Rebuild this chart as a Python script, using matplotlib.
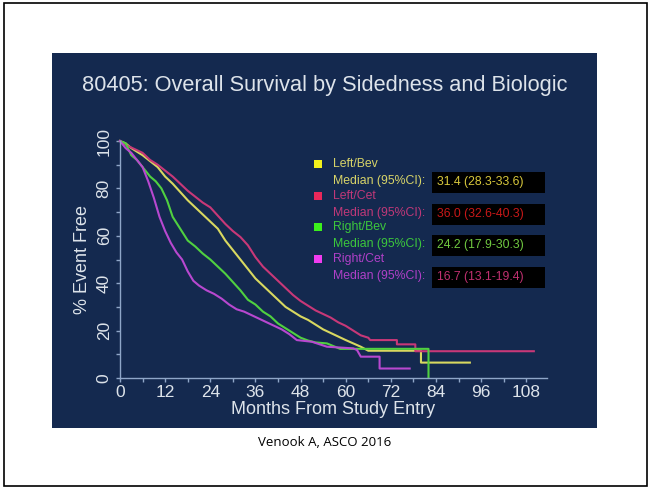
#!/usr/bin/env python3
"""Slide: 80405 overall survival by sidedness and biologic (KM curves)."""

import matplotlib
matplotlib.use('Agg')
import matplotlib.pyplot as plt
from matplotlib.patches import Rectangle

W, H = 652, 488

# Kaplan-Meier curves (months, % event free);
# the late flat parts keep their step corners as repeated months
left_bev_t = [0, 1.5, 3, 4.5, 6, 8, 10, 12, 14, 16, 18, 20, 22, 24, 26, 28, 30, 32, 34, 36,
              38, 40, 42, 44, 46, 48, 50, 52, 54, 56, 58, 60, 62, 64, 66, 80, 80, 93]
left_bev_s = [100, 99, 97, 95.5, 94, 91.5, 89, 85, 82, 78.5, 75, 72, 69, 66, 63, 58, 54, 50, 46, 42,
              39, 36, 33, 30, 28, 26, 24.5, 22.5, 20.5, 19, 17.5, 16, 14.6, 13.2, 11.5, 11.5, 6.5, 6.5]

left_cet_t = [0, 2, 4, 6, 8, 10, 12, 14, 16, 18, 20, 22, 24, 26, 28, 30, 32, 34, 36, 38,
              40, 42, 44, 46, 48, 50, 52, 54, 56, 58, 60, 62, 64, 66, 66.5, 73.6, 73.6, 78.5,
              78.5, 110]
left_cet_s = [100, 98, 96.5, 95, 92, 90, 87.5, 85, 82, 79, 76.5, 74, 72, 68.5, 65, 62, 59.5, 56, 51, 47,
              44, 41, 38, 35, 32.5, 30.5, 28.5, 27, 25.5, 23.5, 22, 20, 18, 17, 16, 16, 14.2, 14.2,
              11.3, 11.3]

right_bev_t = [0, 1.5, 3, 4.5, 6, 8, 9.5, 11, 12.5, 14, 16, 18, 20, 22, 24, 26, 28, 30, 32, 34,
               36, 38, 40, 42, 44, 46, 48, 50, 52, 55, 58.5, 82, 82]
right_bev_s = [100, 99, 94, 92, 89, 85, 83, 80, 75, 68, 63, 58, 55.5, 52.5, 50, 47, 44, 40.5, 37, 33,
               31, 28, 26, 23, 21, 19, 17, 15.8, 15, 14.6, 12.3, 12.3, 0]

right_cet_t = [0, 1.5, 3, 4.5, 6, 7.5, 9, 10.5, 12, 13.5, 15, 16.5, 18, 19.5, 21, 23, 25, 27, 29, 31,
               33, 35, 37, 39, 41, 43, 45, 47, 51, 55, 62, 63, 64, 69, 69, 77]
right_cet_s = [100, 97, 95, 92, 89, 83, 76, 68, 62, 57, 53, 50, 45, 41, 39, 37, 35.5, 33.5, 31, 29,
               28, 26.5, 25, 23.5, 22, 20.5, 18.5, 16, 15.3, 13.2, 12.5, 11.8, 9, 9, 4, 4]

groups = ['Left/Bev', 'Left/Cet', 'Right/Bev', 'Right/Cet']
medians = ['31.4 (28.3-33.6)', '36.0 (32.6-40.3)', '24.2 (17.9-30.3)', '16.7 (13.1-19.4)']
curve_colors = ['#d8d860', '#c83878', '#50d040', '#b848d0']
square_colors = ['#f2f01c', '#e8285a', '#3cf01c', '#f03cf0']
label_colors = ['#d8d468', '#c03878', '#3cc83c', '#b040c8']
value_colors = ['#d8c83c', '#c81818', '#70c840', '#c03070']

x_ticks = [0, 12, 24, 36, 48, 60, 72, 84, 96, 108]
y_ticks = [0, 20, 40, 60, 80, 100]

NAVY = '#14294f'
AXIS = '#8fa6c8'
TEXT = '#dde3ea'
FONT = ['Liberation Sans', 'DejaVu Sans']


def fx(x):
    return x / W


def fy(y):
    return 1 - y / H


fig = plt.figure(figsize=(W / 100, H / 100), dpi=100)
fig.patch.set_facecolor('white')

# slide frame and dark panel
fig.patches.append(Rectangle((fx(4), fy(486)), fx(643), 483 / H, transform=fig.transFigure,
                             fill=False, edgecolor='black', linewidth=1.2, zorder=-2))
fig.patches.append(Rectangle((fx(52), fy(428)), fx(545), 375 / H, transform=fig.transFigure,
                             facecolor=NAVY, edgecolor='none', zorder=-1))

fig.text(fx(325), fy(86), '80405: Overall Survival by Sidedness and Biologic',
         ha='center', va='center', color=TEXT, fontsize=15.7, family=FONT)
fig.text(fx(325), fy(442), 'Venook A, ASCO 2016', ha='center', va='center',
         color='black', fontsize=9.5, family=['Open Sans', 'DejaVu Sans'])

ax = fig.add_axes([fx(120), fy(378), (547 - 120) / W, (378 - 141) / H])
ax.set_facecolor('none')

curves = [(left_bev_t, left_bev_s), (left_cet_t, left_cet_s),
          (right_bev_t, right_bev_s), (right_cet_t, right_cet_s)]
for (t, s), c in zip(curves, curve_colors):
    ax.plot(t, s, color=c, linewidth=1.5, clip_on=False)

ax.set_xlim(0, 113.5)
ax.set_ylim(0, 100)
for side in ['top', 'right']:
    ax.spines[side].set_visible(False)
for side in ['left', 'bottom']:
    ax.spines[side].set_color(AXIS)
    ax.spines[side].set_linewidth(1.0)

ax.set_xticks(x_ticks)
ax.set_xticks(range(6, 114, 12), minor=True)
ax.set_yticks(y_ticks)
ax.set_yticks(range(10, 100, 20), minor=True)
ax.tick_params(which='both', colors=AXIS, length=3, width=1)
ax.tick_params(axis='x', labelsize=12.5, labelcolor=TEXT, pad=2)
ax.tick_params(axis='y', labelsize=12.5, labelcolor=TEXT, pad=3)
for lab in ax.get_xticklabels():
    lab.set_family(FONT)
for lab in ax.get_yticklabels():
    lab.set_family(FONT)
    lab.set_rotation(90)
    lab.set_va('center')

ax.set_xlabel('Months From Study Entry', color=TEXT, fontsize=13, family=FONT, labelpad=1)
ax.set_ylabel('% Event Free', color=TEXT, fontsize=13, family=FONT, labelpad=4)

# legend block with medians
for i, g in enumerate(groups):
    y0 = 164 + 31.7 * i
    fig.patches.append(Rectangle((fx(314), fy(y0 + 4)), 8 / W, 8 / H, transform=fig.transFigure,
                                 facecolor=square_colors[i], edgecolor='none'))
    fig.text(fx(333), fy(y0), g, color=label_colors[i], fontsize=8.8, va='center', family=FONT)
    fig.text(fx(333), fy(y0 + 17), 'Median (95%CI):', color=label_colors[i], fontsize=8.8,
             va='center', family=FONT)
    fig.patches.append(Rectangle((fx(432), fy(y0 + 29)), 113 / W, 21 / H, transform=fig.transFigure,
                                 facecolor='black', edgecolor='none'))
    fig.text(fx(437), fy(y0 + 18), medians[i], color=value_colors[i], fontsize=8.8,
             va='center', family=FONT)

fig.savefig('out.png', dpi=100)
